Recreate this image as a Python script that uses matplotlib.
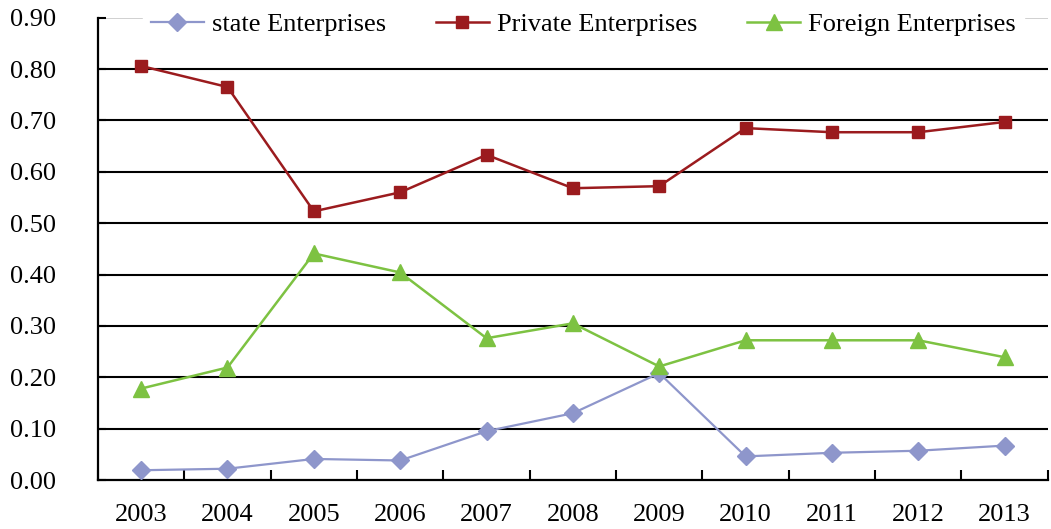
import numpy as np
import matplotlib
matplotlib.use("Agg")
import matplotlib.pyplot as plt

plt.rcParams['font.family'] = ['Liberation Serif', 'DejaVu Serif']

years = ['2003', '2004', '2005', '2006', '2007', '2008',
         '2009', '2010', '2011', '2012', '2013']
state = [0.019, 0.022, 0.041, 0.038, 0.095, 0.130, 0.208, 0.046, 0.053, 0.057, 0.067]
private = [0.806, 0.765, 0.523, 0.560, 0.633, 0.568, 0.572, 0.685, 0.677, 0.677, 0.697]
foreign = [0.178, 0.219, 0.441, 0.404, 0.276, 0.305, 0.221, 0.272, 0.272, 0.272, 0.239]
yticks = [0.0, 0.1, 0.2, 0.3, 0.4, 0.5, 0.6, 0.7, 0.8, 0.9]

fig = plt.figure(figsize=(10.51, 5.29), dpi=100)
ax = fig.add_axes([0.0932, 0.0926, 0.9038, 0.874])

x = np.arange(len(years))
ax.plot(x, state, color='#8E96CB', lw=1.6, marker='D', ms=9, label='state Enterprises', zorder=3)
ax.plot(x, private, color='#9B1B1E', lw=1.8, marker='s', ms=9, label='Private Enterprises', zorder=3)
ax.plot(x, foreign, color='#7DC242', lw=1.8, marker='^', ms=11, label='Foreign Enterprises', zorder=3)

ax.set_xlim(-0.5, len(years) - 0.5)
ax.set_ylim(0, 0.9)

# horizontal gridlines; the top one is light and mostly hidden by the legend
for v in yticks[1:-1]:
    ax.axhline(v, color='black', lw=1.5, zorder=1)
ax.axhline(0.9, color='#c8c8c8', lw=1.2, zorder=1)

ax.set_yticks(yticks)
ax.set_yticklabels(['%.2f' % v for v in yticks])
ax.set_xticks(x)
ax.set_xticklabels(years)
ax.set_xticks(np.arange(len(years) + 1) - 0.5, minor=True)

ax.tick_params(axis='x', which='major', length=0, pad=17, labelsize=19)
ax.tick_params(axis='x', which='minor', direction='in', length=7, width=1.5)
ax.tick_params(axis='y', direction='in', length=6, width=1.5, pad=30, labelsize=19)

for side in ['top', 'right']:
    ax.spines[side].set_visible(False)
for side in ['left', 'bottom']:
    ax.spines[side].set_linewidth(1.6)
    ax.spines[side].set_color('black')

leg = ax.legend(loc='center', bbox_to_anchor=(0.511, 0.986), ncol=3, fontsize=19,
                frameon=True, fancybox=False, edgecolor='white', facecolor='white',
                framealpha=1.0, handlelength=2.0, columnspacing=1.9,
                handletextpad=0.3, borderpad=0.3, markerscale=1.0)
leg.set_zorder(5)

fig.savefig('out.png', dpi=100)
